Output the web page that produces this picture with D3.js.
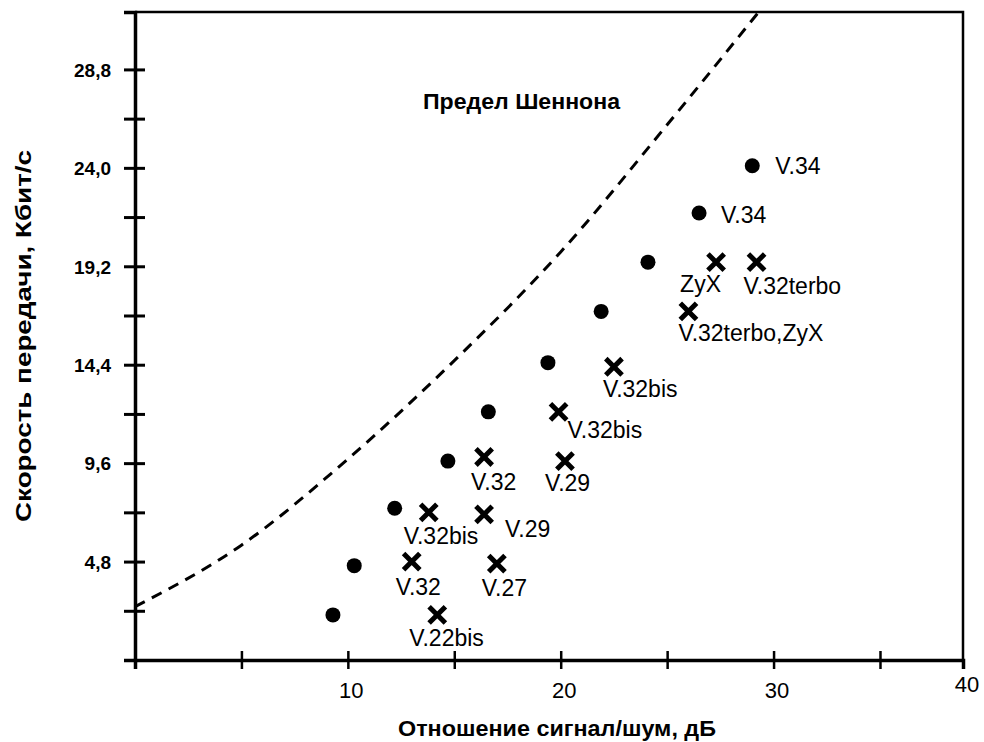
<!DOCTYPE html>
<html>
<head>
<meta charset="utf-8">
<script src="https://cdn.jsdelivr.net/npm/d3@7"></script>
<style>
  body { margin: 0; background: #fff; }
  text { font-family: "Liberation Sans", Arial, sans-serif; fill: #000; }
</style>
</head>
<body>
<div id="chart"></div>
<script>
// modem data
var dotSnr = [9.3, 10.3, 12.2, 14.7, 16.6, 19.4, 21.9, 24.1, 26.5, 29.0]
var dotRate = [2.2, 4.6, 7.4, 9.7, 12.1, 14.5, 17.0, 19.4, 21.8, 24.1]
var dotNames = ["", "", "", "", "", "", "", "", "V.34", "V.34"]

var crossSnr = [13.8, 13.0, 14.2, 16.4, 16.4, 17.0, 20.2, 19.9, 22.5, 27.3, 29.2, 26.0]
var crossRate = [7.2, 4.8, 2.2, 9.9, 7.1, 4.7, 9.7, 12.1, 14.3, 19.4, 19.4, 17.0]
var crossNames = ["V.32bis", "V.32", "V.22bis", "V.32", "V.29", "V.27", "V.29",
  "V.32bis", "V.32bis", "ZyX", "V.32terbo", "V.32terbo,ZyX"]

// Shannon limit, points
var shannonSnr = [0, 5, 10, 15, 20, 25, 29.3]
var shannonRate = [2.6, 5.6, 9.8, 14.6, 19.9, 26.1, 31.6]

var xTicks = [5, 10, 15, 20, 25, 30, 35]
var xLabels = [10, 20, 30]
var yTicks = [2.4, 4.8, 7.2, 9.6, 12, 14.4, 16.8, 19.2, 21.6, 24, 26.4, 28.8]
var yLabels = ["4,8", "9,6", "14,4", "19,2", "24,0", "28,8"]

// label placement relative to each mark (dx, dy)
var dotLabelPos = [[0, 0], [0, 0], [0, 0], [0, 0], [0, 0], [0, 0], [0, 0], [0, 0], [22, 10], [23, 8]]
var crossLabelPos = [[-25, 32], [-16, 33], [-28, 31], [-13, 33], [21, 23], [-15, 32], [-20, 30],
  [9, 26], [-11, 30], [-36, 30], [-13, 32], [-10, 30]]

var margin = { top: 12, right: 21, bottom: 82, left: 135 },
    width = 984 - margin.left - margin.right,
    height = 742 - margin.top - margin.bottom;

var svg = d3.select("#chart")
    .append("svg")
    .attr("width", 984)
    .attr("height", 742)
    .append("g")
    .attr("transform", "translate(" + margin.left + "," + margin.top + ")");

var x = d3.scaleLinear().domain([0, 38.9]).range([0, width])
var y = d3.scaleLinear().domain([0, 31.6]).range([height, 0])

svg.append("clipPath").attr("id", "plot")
    .append("rect").attr("width", width).attr("height", height)

// frame
svg.append("path")
    .attr("d", "M0,0H" + width + "V" + height)
    .attr("fill", "none")
    .attr("stroke", "#000")
    .attr("stroke-width", 2.5)

// y axis
var yAxis = svg.append("g")
    .call(d3.axisLeft(y).tickValues(yTicks).tickSize(11)
        .tickFormat(function (d, i) { return i % 2 == 1 ? yLabels[(i - 1) / 2] : "" }))
yAxis.select(".domain").attr("stroke-width", 3.5)
yAxis.selectAll(".tick line").attr("x2", -11).attr("x1", 10).attr("stroke-width", 3)
yAxis.selectAll(".tick text")
    .attr("x", -24)
    .attr("dy", "0.36em")
    .attr("font-size", 19)
    .attr("font-weight", "bold")
    .attr("font-family", "Liberation Sans, Arial, sans-serif")

// x axis
var xAxis = svg.append("g")
    .attr("transform", "translate(0," + height + ")")
    .call(d3.axisBottom(x).tickValues(xTicks).tickSize(9)
        .tickFormat(function (d) { return xLabels.indexOf(d) >= 0 ? d : "" }))
xAxis.select(".domain").attr("stroke-width", 3.5)
xAxis.selectAll(".tick line").attr("y1", -9).attr("stroke-width", 2.5)
xAxis.selectAll(".tick text")
    .attr("y", 38)
    .attr("dy", 0)
    .attr("dx", 3)
    .attr("font-size", 22)
    .attr("font-family", "Liberation Sans, Arial, sans-serif")
svg.append("text")
    .attr("x", width + 4)
    .attr("y", height + 32)
    .attr("text-anchor", "middle")
    .attr("font-size", 22)
    .text("40")

// Shannon limit
var line = d3.line()
    .x(function (d, i) { return x(shannonSnr[i]) })
    .y(function (d) { return y(d) })
    .curve(d3.curveMonotoneX)
svg.append("path")
    .datum(shannonRate)
    .attr("clip-path", "url(#plot)")
    .attr("d", line)
    .attr("fill", "none")
    .attr("stroke", "#000")
    .attr("stroke-width", 3)
    .attr("stroke-dasharray", "11,8")

svg.append("text")
    .attr("x", 288)
    .attr("y", 97)
    .attr("font-size", 22)
    .attr("font-weight", "bold")
    .attr("textLength", 197)
    .attr("lengthAdjust", "spacingAndGlyphs")
    .text("Предел Шеннона")

// dots
svg.selectAll(".dot")
    .data(dotRate)
    .enter()
    .append("circle")
    .attr("cx", function (d, i) { return x(dotSnr[i]) })
    .attr("cy", function (d) { return y(d) })
    .attr("r", 7.5)
    .attr("fill", "#000")

svg.selectAll(".dotlabel")
    .data(dotRate)
    .enter()
    .append("text")
    .attr("x", function (d, i) { return x(dotSnr[i]) + dotLabelPos[i][0] })
    .attr("y", function (d, i) { return y(d) + dotLabelPos[i][1] })
    .attr("font-size", 23)
    .text(function (d, i) { return dotNames[i] })

// crosses
var times = d3.symbol().type(d3.symbolTimes).size(175)
svg.selectAll(".cross")
    .data(crossRate)
    .enter()
    .append("path")
    .attr("d", times)
    .attr("transform", function (d, i) { return "translate(" + x(crossSnr[i]) + "," + y(d) + ")" })
    .attr("fill", "none")
    .attr("stroke", "#000")
    .attr("stroke-width", 5)

svg.selectAll(".crosslabel")
    .data(crossRate)
    .enter()
    .append("text")
    .attr("x", function (d, i) { return x(crossSnr[i]) + crossLabelPos[i][0] })
    .attr("y", function (d, i) { return y(d) + crossLabelPos[i][1] })
    .attr("font-size", 23)
    .text(function (d, i) { return crossNames[i] })

// axis titles
svg.append("text")
    .attr("x", 263)
    .attr("y", height + 76)
    .attr("font-size", 22)
    .attr("font-weight", "bold")
    .attr("textLength", 318)
    .attr("lengthAdjust", "spacingAndGlyphs")
    .text("Отношение сигнал/шум, дБ")

svg.append("text")
    .attr("transform", "translate(" + (-104) + "," + 510 + ") rotate(-90)")
    .attr("font-size", 22)
    .attr("font-weight", "bold")
    .attr("textLength", 372)
    .attr("lengthAdjust", "spacingAndGlyphs")
    .text("Скорость передачи, Кбит/с")
</script>
</body>
</html>
